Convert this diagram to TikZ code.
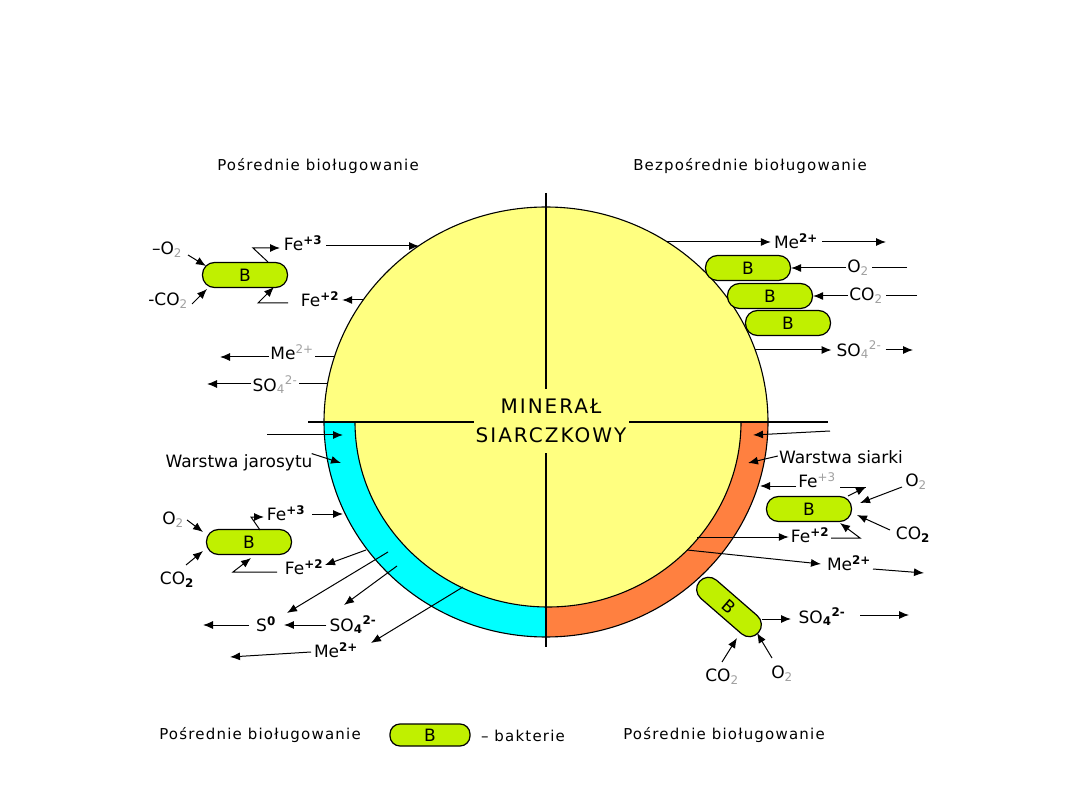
\documentclass[tikz,border=0pt]{standalone}
\usepackage{fontspec}
\setmainfont{DejaVu Sans}
\newfontfamily\titlefont[LetterSpace=8]{DejaVu Sans}
\newfontfamily\minfont[LetterSpace=10]{DejaVu Sans}
\usetikzlibrary{arrows.meta}
\definecolor{myyellow}{HTML}{FFFF80}
\definecolor{mycyan}{HTML}{00FFFF}
\definecolor{myorange}{HTML}{FF8040}
\definecolor{bact}{HTML}{C0F000}
\definecolor{sgray}{HTML}{A0A0A0}
\newcommand\gsb[1]{\textsubscript{\color{sgray}#1}}
\newcommand\gsp[1]{\textsuperscript{\color{sgray}#1}}
\newcommand\ksb[1]{\textsubscript{\bfseries #1}}
\newcommand\ksp[1]{\textsuperscript{\bfseries #1}}
\tikzset{
  lbl/.style={font=\fontsize{17}{19}\selectfont, inner sep=1pt},
  ttl/.style={font=\titlefont\fontsize{15}{17}\selectfont, inner sep=1pt},
  bac/.style={draw, line width=1.2pt, fill=bact, rounded corners=12pt, minimum width=85pt, minimum height=25pt, inner sep=0pt, font=\fontsize{17}{19}\selectfont},
  arr/.style={-{Latex[length=10pt,width=8pt]}, line width=1pt},
  ln/.style={line width=1pt}
}
\begin{document}
\begin{tikzpicture}[x=1pt,y=-1pt]
\useasboundingbox[fill=white] (0,0) rectangle (1080,810);
% ---- mineral
\fill[myyellow] (324,422) arc[start angle=180,end angle=360,x radius=222,y radius=215] -- cycle;
\fill[mycyan] (546,422) -- (324,422) arc[start angle=180,end angle=90,x radius=222,y radius=215] -- cycle;
\fill[myorange] (546,422) -- (768,422) arc[start angle=0,end angle=90,x radius=222,y radius=215] -- cycle;
\fill[myyellow] (355,422) arc[start angle=180,end angle=0,x radius=193,y radius=185] -- cycle;
\draw[line width=1.1pt] (355,422) arc[start angle=180,end angle=0,x radius=193,y radius=185];
\draw[line width=1.1pt] (546,422) ellipse[x radius=222,y radius=215];
\draw[line width=1.1pt] (546,193) -- (546,647);
\draw[line width=1.1pt] (308,422) -- (828,422);
\node[fill=myyellow, minimum width=155pt, minimum height=64pt, align=center, inner sep=0pt,
      font=\minfont\fontsize{20}{29}\selectfont] (min) at (551,421) {MINERAŁ\\SIARCZKOWY};

% ---- titles
\node[ttl] (t1) at (318,166) {Pośrednie bioługowanie};
\node[ttl] (t2) at (750,166) {Bezpośrednie bioługowanie};
\node[ttl] (t3) at (260,735) {Pośrednie bioługowanie};
\node[ttl] (t4) at (724,735) {Pośrednie bioługowanie};
\node[bac, minimum width=80pt, minimum height=22pt, rounded corners=10pt] (leg) at (430,735) {B};
\node[ttl] (legt) at (523,736) {– bakterie};

% ---- top-left (indirect)
\node[bac] (b1) at (245,275) {B};
\node[lbl] (o2a) at (167,250) {–O\gsb{2}};
\node[lbl] (co2a) at (168,301) {-CO\gsb{2}};
\node[lbl] (fe3a) at (303,243) {Fe\ksp{+3}};
\node[lbl] (fe2a) at (320,299) {Fe\ksp{+2}};
\node[lbl] (mea) at (292,352) {Me\gsp{2+}};
\node[lbl] (so4a) at (275,385) {SO\gsb{4}\gsp{2-}};
\coordinate (a1) at (188,255); \coordinate (a2) at (206,266);
\draw[arr] (a1) -- (a2);
\coordinate (a3) at (192,304); \coordinate (a4) at (207,289);
\draw[arr] (a3) -- (a4);
\coordinate (a5) at (268,262); \coordinate (a6) at (253,248); \coordinate (a7) at (280,248);
\draw[arr] (a5) -- (a6) -- (a7);
\coordinate (a8) at (288,303); \coordinate (a9) at (258,303); \coordinate (a10) at (274,287);
\draw[arr] (a8) -- (a9) -- (a10);
\coordinate (c1) at (419,246);
\draw[arr] (fe3a.east |- c1) ++(3,0) -- (c1);
\coordinate (c2) at (363,300);
\draw[arr] (c2) -- ([xshift=2pt]fe2a.east |- c2);
\coordinate (c3) at (334,357); \coordinate (c3b) at (220,357);
\draw[ln] (c3) -- (mea.east |- c3);
\draw[arr] (mea.west |- c3) -- (c3b);
\coordinate (c4) at (327,384); \coordinate (c4b) at (207,384);
\draw[ln] (c4) -- (so4a.east |- c4);
\draw[arr] (so4a.west |- c4) -- (c4b);

% ---- top-right (direct)
\node[bac] (b2) at (748,268) {B};
\node[bac] (b3) at (770,296) {B};
\node[bac] (b4) at (788,323) {B};
\node[lbl] (meb) at (796,241) {Me\ksp{2+}};
\node[lbl] (o2b) at (858,268) {O\gsb{2}};
\node[lbl] (co2b) at (866,296) {CO\gsb{2}};
\node[lbl] (so4b) at (859,350) {SO\gsb{4}\gsp{2-}};
\coordinate (d1) at (667,242); \coordinate (d1b) at (886,242);
\draw[arr] (d1) -- ([xshift=-2pt]meb.west |- d1);
\draw[arr] ([xshift=3pt]meb.east |- d1) -- (d1b);
\coordinate (d2) at (907,268);
\draw[ln] (d2) -- ([xshift=2pt]o2b.east |- d2);
\draw[arr] (o2b.west |- d2) -- (b2.east |- d2);
\coordinate (d3) at (917,296);
\draw[ln] (d3) -- ([xshift=2pt]co2b.east |- d3);
\draw[arr] (co2b.west |- d3) -- (b3.east |- d3);
\coordinate (d4) at (755,350); \coordinate (d4b) at (913,350);
\draw[arr] (d4) -- ([xshift=-4pt]so4b.west |- d4);
\draw[arr] ([xshift=3pt]so4b.east |- d4) -- (d4b);

% ---- bottom-left (jarosite layer)
\node[bac] (b5) at (249,542) {B};
\node[lbl] (jar) at (239,463) {Warstwa jarosytu};
\node[lbl] (o2c) at (173,520) {O\gsb{2}};
\node[lbl] (co2c) at (177,580) {CO\ksb{2}};
\node[lbl] (fe3c) at (286,513) {Fe\ksp{+3}};
\node[lbl] (fe2c) at (304,567) {Fe\ksp{+2}};
\node[lbl] (s0) at (266,624) {S\ksp{0}};
\node[lbl] (so4c) at (353,625) {SO\ksb{4}\ksp{2-}};
\node[lbl] (mec) at (336,650) {Me\ksp{2+}};
\coordinate (e1) at (267,435); \coordinate (e2) at (343,435);
\draw[arr] (e1) -- (e2);
\coordinate (e3) at (341,463);
\draw[arr] (jar.north east) ++(-2,0) -- (e3);
\coordinate (e4) at (187,520); \coordinate (e5) at (203,532);
\draw[arr] (e4) -- (e5);
\coordinate (e6) at (186,565); \coordinate (e7) at (203,551);
\draw[arr] (e6) -- (e7);
\coordinate (e8) at (260,530); \coordinate (e9) at (251,517); \coordinate (e10) at (264,517);
\draw[arr] (e8) -- (e9) -- (e10);
\coordinate (e11) at (343,514);
\draw[arr] ([xshift=6pt]fe3c.east |- e11) -- (e11);
\coordinate (e12) at (366,550); \coordinate (e13) at (325,565);
\draw[arr] (e12) -- (e13);
\coordinate (e14) at (277,572); \coordinate (e15) at (233,572); \coordinate (e16) at (251,558);
\draw[arr] (e14) -- (e15) -- (e16);
\coordinate (e17) at (388,552); \coordinate (e18) at (287,613);
\draw[arr] (e17) -- (e18);
\coordinate (e19) at (203,625);
\draw[arr] ([xshift=-6pt]s0.west |- e19) -- (e19);
\draw[arr] ([xshift=-2pt]so4c.west |- e19) -- ([xshift=7pt]s0.east |- e19);
\coordinate (e20) at (397,566); \coordinate (e21) at (344,605);
\draw[arr] (e20) -- (e21);
\coordinate (e22) at (463,587); \coordinate (e23) at (371,643);
\draw[arr] (e22) -- (e23);
\coordinate (e24) at (311,652); \coordinate (e25) at (230,657);
\draw[arr] (e24) -- (e25);

% ---- bottom-right (sulphur layer)
\node[bac] (b6) at (809,509) {B};
\node[bac, minimum width=78pt, minimum height=24pt, rotate=-41] (b7) at (729,607) {B};
\node[lbl] (sia) at (841,457) {Warstwa siarki};
\node[lbl] (fe3d) at (817,480) {Fe\gsp{+3}};
\node[lbl] (o2d) at (916,482) {O\gsb{2}};
\node[lbl] (co2d) at (913,535) {CO\ksb{2}};
\node[lbl] (fe2d) at (810,535) {Fe\ksp{+2}};
\node[lbl] (med) at (849,563) {Me\ksp{2+}};
\node[lbl] (so4d) at (822,617) {SO\ksb{4}\ksp{2-}};
\node[lbl] (co2e) at (722,677) {CO\gsb{2}};
\node[lbl] (o2e) at (782,674) {O\gsb{2}};
\coordinate (f1) at (830,431); \coordinate (f2) at (753,435);
\draw[arr] (f1) -- (f2);
\coordinate (f3) at (748,463);
\draw[arr] ([yshift=1pt]sia.west) -- (f3);
\coordinate (f4) at (760,486);
\draw[arr] ([xshift=-1pt]fe3d.west |- f4) -- (f4);
\coordinate (f5) at (840,487); \coordinate (f6) at (866,487); \coordinate (f7) at (848,496);
\draw[ln] (f5) -- (f6);
\draw[arr] (f7) -- (f6);
\coordinate (f8) at (902,487); \coordinate (f9) at (860,503);
\draw[arr] (f8) -- (f9);
\coordinate (f10) at (890,530); \coordinate (f11) at (857,515);
\draw[arr] (f10) -- (f11);
\coordinate (f12) at (697,537);
\draw[arr] (f12) -- ([xshift=-1pt]fe2d.west |- f12);
\coordinate (f13) at (860,538); \coordinate (f14) at (840,523);
\draw[arr] ([xshift=1pt]fe2d.east |- f13) -- (f13) -- (f14);
\coordinate (f15) at (687,550); \coordinate (f16) at (821,564);
\draw[arr] (f15) -- (f16);
\coordinate (f17) at (873,569); \coordinate (f18) at (924,573);
\draw[arr] (f17) -- (f18);
\coordinate (f19) at (762,619); \coordinate (f20) at (791,619);
\draw[arr] (f19) -- (f20);
\coordinate (f21) at (860,615); \coordinate (f22) at (909,615);
\draw[arr] (f21) -- (f22);
\coordinate (f23) at (722,662); \coordinate (f24) at (737,638);
\draw[arr] (f23) -- (f24);
\coordinate (f25) at (772,658); \coordinate (f26) at (757,633);
\draw[arr] (f25) -- (f26);
\end{tikzpicture}
\end{document}
